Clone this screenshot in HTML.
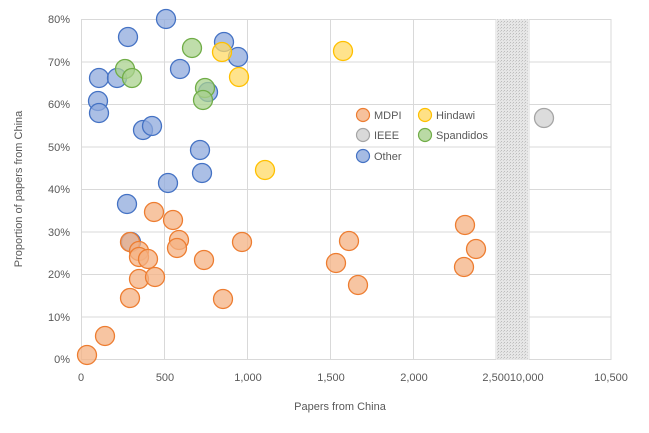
<!DOCTYPE html>
<html><head><meta charset="utf-8"><style>
body{margin:0;background:#fff}
svg text{font-family:"Liberation Sans",sans-serif;fill:#595959}
</style></head><body>
<svg width="649" height="428" viewBox="0 0 649 428" xmlns="http://www.w3.org/2000/svg">
<defs>
<pattern id="hatch" width="3" height="3" patternUnits="userSpaceOnUse">
<rect width="3" height="3" fill="#e6e6e6"/><rect width="1" height="1" fill="#bdbdbd"/><rect x="2" y="1" width="1" height="1" fill="#cfcfcf"/>
</pattern>
</defs>
<g stroke="#d9d9d9" stroke-width="1">
<line x1="81" y1="19.5" x2="496" y2="19.5"/><line x1="81" y1="62" x2="496" y2="62"/><line x1="81" y1="104.5" x2="496" y2="104.5"/><line x1="81" y1="147" x2="496" y2="147"/><line x1="81" y1="189.5" x2="496" y2="189.5"/><line x1="81" y1="232" x2="496" y2="232"/><line x1="81" y1="274.5" x2="496" y2="274.5"/><line x1="81" y1="317" x2="496" y2="317"/><line x1="81" y1="359.5" x2="496" y2="359.5"/>
<line x1="529" y1="19.5" x2="611" y2="19.5"/><line x1="529" y1="62" x2="611" y2="62"/><line x1="529" y1="104.5" x2="611" y2="104.5"/><line x1="529" y1="147" x2="611" y2="147"/><line x1="529" y1="189.5" x2="611" y2="189.5"/><line x1="529" y1="232" x2="611" y2="232"/><line x1="529" y1="274.5" x2="611" y2="274.5"/><line x1="529" y1="317" x2="611" y2="317"/><line x1="529" y1="359.5" x2="611" y2="359.5"/>
<line x1="81.5" y1="19" x2="81.5" y2="360"/><line x1="164.5" y1="19" x2="164.5" y2="360"/><line x1="247.5" y1="19" x2="247.5" y2="360"/><line x1="330.5" y1="19" x2="330.5" y2="360"/><line x1="413.5" y1="19" x2="413.5" y2="360"/><line x1="496" y1="19" x2="496" y2="360"/>
<line x1="529" y1="19" x2="529" y2="360"/><line x1="611" y1="19" x2="611" y2="360"/>
</g>
<rect x="497" y="19" width="31" height="341" fill="url(#hatch)"/>
<g font-size="11" text-anchor="end">
<text x="70" y="23">80%</text><text x="70" y="66">70%</text><text x="70" y="108">60%</text><text x="70" y="151">50%</text><text x="70" y="193">40%</text><text x="70" y="236">30%</text><text x="70" y="278">20%</text><text x="70" y="321">10%</text><text x="70" y="363">0%</text>
</g>
<g font-size="11" text-anchor="middle">
<text x="81" y="381">0</text><text x="165" y="381">500</text><text x="248" y="381">1,000</text><text x="331" y="381">1,500</text><text x="414" y="381">2,000</text><text x="513" y="381">2,50010,000</text><text x="611" y="381">10,500</text>
<text x="340" y="410">Papers from China</text>
</g>
<text font-size="11" text-anchor="middle" transform="translate(22,189) rotate(-90)">Proportion of papers from China</text>
<g stroke-width="1.3" fill-opacity="0.75">
<g fill="#8faadc" stroke="#4472c4">
<circle cx="166" cy="19" r="9.5"/><circle cx="128" cy="37" r="9.5"/><circle cx="224" cy="42" r="9.5"/><circle cx="238" cy="57" r="9.5"/><circle cx="180" cy="69" r="9.5"/><circle cx="99" cy="78" r="9.5"/><circle cx="117" cy="78" r="9.5"/><circle cx="98" cy="101" r="9.5"/><circle cx="99" cy="113" r="9.5"/><circle cx="143" cy="130" r="9.5"/><circle cx="152" cy="126" r="9.5"/><circle cx="208" cy="92" r="9.5"/><circle cx="200" cy="150" r="9.5"/><circle cx="202" cy="173" r="9.5"/><circle cx="168" cy="183" r="9.5"/><circle cx="127" cy="204" r="9.5"/><circle cx="131" cy="242" r="9.5"/>
</g>
<g fill="#a9d18e" stroke="#70ad47">
<circle cx="125" cy="69" r="9.5"/><circle cx="132" cy="78" r="9.5"/><circle cx="192" cy="48" r="9.5"/><circle cx="205" cy="88" r="9.5"/><circle cx="203" cy="100" r="9.5"/>
</g>
<g fill="#ffd966" stroke="#ffc000">
<circle cx="222" cy="52" r="9.5"/><circle cx="239" cy="77" r="9.5"/><circle cx="265" cy="170" r="9.5"/><circle cx="343" cy="51" r="9.5"/>
</g>
<g fill="#f4b183" stroke="#ed7d31">
<circle cx="154" cy="212" r="9.5"/><circle cx="173" cy="220" r="9.5"/><circle cx="179" cy="240" r="9.5"/><circle cx="177" cy="248" r="9.5"/><circle cx="242" cy="242" r="9.5"/><circle cx="130" cy="242" r="9.5"/><circle cx="139" cy="251" r="9.5"/><circle cx="139" cy="257" r="9.5"/><circle cx="148" cy="259" r="9.5"/><circle cx="204" cy="260" r="9.5"/><circle cx="139" cy="279" r="9.5"/><circle cx="155" cy="277" r="9.5"/><circle cx="130" cy="298" r="9.5"/><circle cx="223" cy="299" r="9.5"/><circle cx="105" cy="336" r="9.5"/><circle cx="87" cy="355" r="9.5"/>
<circle cx="465" cy="225" r="9.5"/><circle cx="476" cy="249" r="9.5"/><circle cx="464" cy="267" r="9.5"/><circle cx="336" cy="263" r="9.5"/><circle cx="349" cy="241" r="9.5"/><circle cx="358" cy="285" r="9.5"/>
</g>
<g fill="#d0d0d0" stroke="#a5a5a5"><circle cx="544" cy="118" r="9.5"/></g>
</g>
<g stroke-width="1.2" fill-opacity="0.8">
<circle cx="363" cy="115" r="6.5" fill="#f4b183" stroke="#ed7d31"/>
<circle cx="425" cy="115" r="6.5" fill="#ffd966" stroke="#ffc000"/>
<circle cx="363" cy="135" r="6.5" fill="#d0d0d0" stroke="#a5a5a5"/>
<circle cx="425" cy="135" r="6.5" fill="#a9d18e" stroke="#70ad47"/>
<circle cx="363" cy="156" r="6.5" fill="#8faadc" stroke="#4472c4"/>
</g>
<g font-size="11">
<text x="374" y="119">MDPI</text><text x="436" y="119">Hindawi</text>
<text x="374" y="139">IEEE</text><text x="436" y="139">Spandidos</text>
<text x="374" y="160">Other</text>
</g>
</svg>
</body></html>
